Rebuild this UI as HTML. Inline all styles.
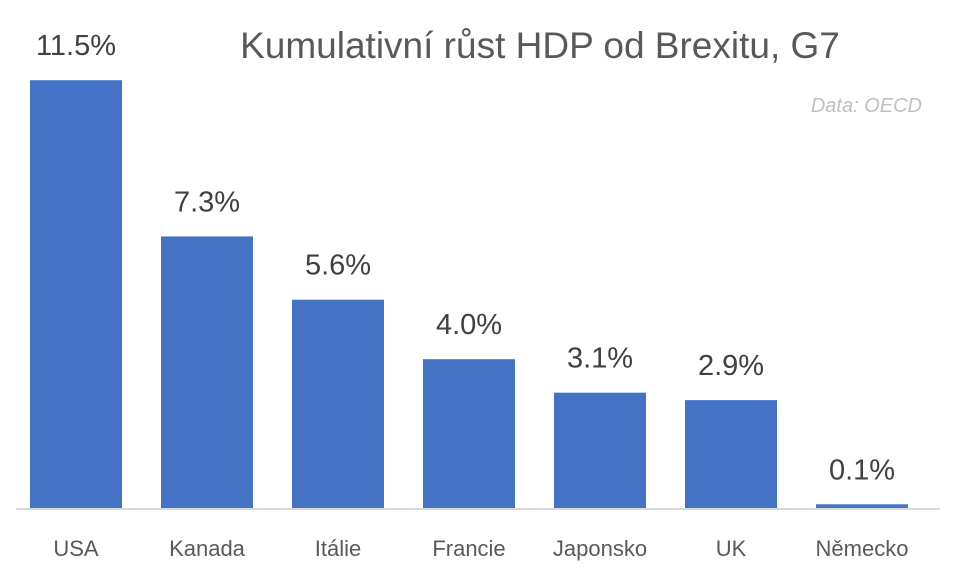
<!DOCTYPE html>
<html><head><meta charset="utf-8"><style>
body{margin:0;background:#fff;width:955px;height:571px;overflow:hidden}
svg{display:block;font-family:"Liberation Sans",sans-serif}
</style></head><body>
<svg id="chart" width="955" height="571">
<text x="540" y="58" font-size="37" fill="#595959" text-anchor="middle">Kumulativní růst HDP od Brexitu, G7</text>
<text x="922" y="112" font-size="20" font-style="italic" fill="#bfbfbf" text-anchor="end">Data: OECD</text>
<line x1="16" y1="509" x2="940" y2="509" stroke="#d9d9d9" stroke-width="2"/>
<g id="bars"></g>
</svg>
<script>
const categories=["USA","Kanada","Itálie","Francie","Japonsko","UK","Německo"];
const values=[11.5,7.3,5.6,4.0,3.1,2.9,0.1];
const valueLabels=["11.5%","7.3%","5.6%","4.0%","3.1%","2.9%","0.1%"];
const g=document.getElementById('bars');
const NS="http://www.w3.org/2000/svg";
const x0=76,step=131,bw=92,base=508,pxPer=37.2;
function xc(i){return x0+i*step;}
function y(v){return base-v*pxPer;}
categories.forEach((c,i)=>{
  const r=document.createElementNS(NS,'rect');
  
  
  r.setAttribute('x',xc(i)-bw/2);r.setAttribute('y',y(values[i]));
  r.setAttribute('width',bw);r.setAttribute('height',base-y(values[i]));
  r.setAttribute('fill','#4472c4');g.appendChild(r);
  const t=document.createElementNS(NS,'text');
  
  
  t.setAttribute('x',xc(i));t.setAttribute('y',y(values[i])-25);
  t.setAttribute('font-size','29');t.setAttribute('fill','#404040');t.setAttribute('text-anchor','middle');
  t.textContent=valueLabels[i];g.appendChild(t);
  const l=document.createElementNS(NS,'text');
  
  
  l.setAttribute('x',xc(i));l.setAttribute('y',556);
  l.setAttribute('font-size','22');l.setAttribute('fill','#595959');l.setAttribute('text-anchor','middle');
  l.textContent=c;g.appendChild(l);
});
</script>
</body></html>
